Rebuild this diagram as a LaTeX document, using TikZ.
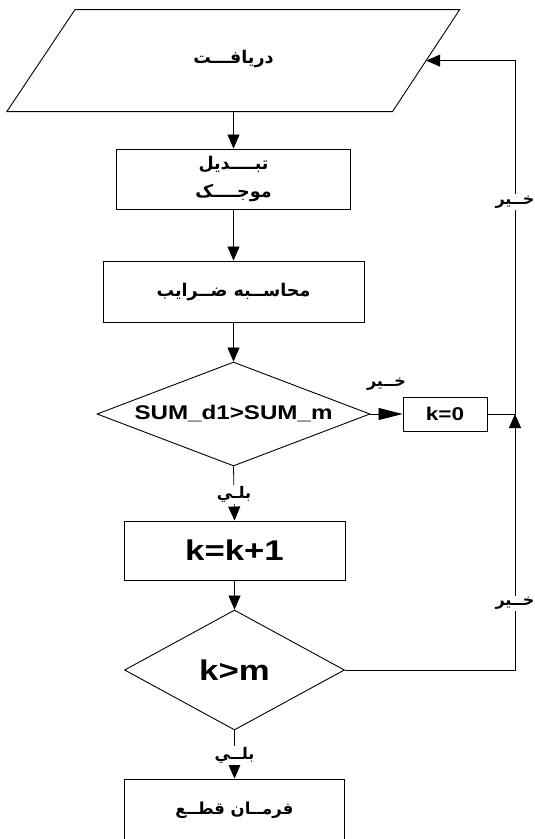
\documentclass[tikz,border=0pt]{standalone}
\usepackage{fontspec}
\usetikzlibrary{arrows.meta,shapes.geometric}
\TeXXeTstate=1
\newfontfamily\arfont[Script=Arabic]{DejaVu Sans}
\newfontfamily\lafont[FakeStretch=1.22]{Liberation Sans}
\newcommand{\arsz}[1]{\arfont\bfseries\fontsize{#1}{#1}\selectfont}
\newcommand{\la}[2]{{\lafont\bfseries\fontsize{#1}{#1}\selectfont #2}}
\begin{document}
\begin{tikzpicture}[x=1pt,y=-1pt,
  shapeline/.style={draw=black, line width=0.9pt},
  boxnode/.style={shapeline, rectangle, inner sep=0pt},
  dianode/.style={shapeline, diamond, inner sep=0pt},
  conn/.style={line width=0.8pt, draw=black},
  arr/.style={conn, -{Triangle[length=14pt,width=12pt]}},
  lbl/.style={fill=white, inner sep=1.5pt}]
\useasboundingbox (0,0) rectangle (535,839);
\fill[white] (0,0) rectangle (535,839);

% parallelogram (input)
\coordinate (ptl) at (75,9.6);
\coordinate (ptr) at (459.7,9.6);
\coordinate (pbr) at (392.5,111.6);
\coordinate (pbl) at (6.8,111.6);
\draw[shapeline] (ptl) -- (ptr) -- (pbr) -- (pbl) -- cycle;
\coordinate (pbot) at (233.5,111.6);
\coordinate (pright) at (426.2,60.6);
\node (in) at (233.5,59) {{\arsz{17.5}\beginR دریافـــت\endR}};

% nodes
\node[boxnode, minimum width=234pt, minimum height=60pt, align=center] (wav) at (233.5,179)
  {{\arsz{17.5}\beginR تبــــدیل\endR}\\[11pt]{\arsz{17.5}\beginR موجــــک\endR}};
\node[boxnode, minimum width=261pt, minimum height=61pt] (coef) at (233.5,291.5) {{\arsz{17.5}\beginR محاســبه ضــرایب\endR}};
\node[dianode, shape aspect=2.6, minimum width=273pt, minimum height=104pt] (d1) at (233.5,414) {\la{19.8}{SUM\_d1>SUM\_m}};
\node[boxnode, minimum width=84pt, minimum height=34pt] (k0) at (445,414) {\la{18.5}{k=0}};
\node[boxnode, minimum width=221pt, minimum height=59pt] (kk) at (234.5,550.5) {\la{28.5}{k=k+1}};
\node[dianode, shape aspect=1.8, minimum width=220pt, minimum height=120pt] (d2) at (234.5,670) {\la{28.5}{k>m}};
\node[boxnode, minimum width=220pt, minimum height=62pt] (stop) at (234.5,810) {{\arsz{16.5}\beginR فرمــان قطــع\endR}};

\coordinate (j) at (515,414);

% connectors
\draw[arr] (pbot) -- (pbot |- wav.north);
\draw[arr] (wav.south) -- (coef.north);
\draw[arr] (coef.south) -- (d1.north);
\draw[conn, -{Triangle[length=24pt,width=12pt]}] (d1.east) -- node[pos=0.5, yshift=30pt, inner sep=0pt] {{\arsz{16}\beginR خــیر\endR}} (k0.west);
\draw[arr] (d1.south) -- node[lbl, pos=0.52] {{\arsz{16}\beginR بلـي\endR}} (kk.north);
\draw[arr] (kk.south) -- (d2.north);
\draw[arr] (d2.south) -- node[lbl, pos=0.52] {{\arsz{16}\beginR بلــي\endR}} (stop.north);
\draw[arr] (k0.east) -- (j) -- node[lbl, pos=0.6] {{\arsz{16}\beginR خــیر\endR}} (j |- pright) -- (pright);
\draw[arr] (d2.east) -- (d2.east -| j) -- node[lbl, pos=0.26] {{\arsz{16}\beginR خــیر\endR}} (j);
\end{tikzpicture}
\end{document}
